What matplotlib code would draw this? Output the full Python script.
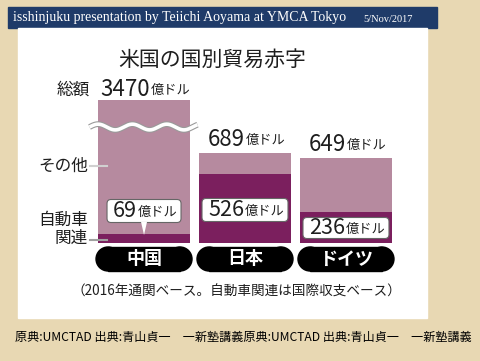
import numpy as np
import matplotlib.pyplot as plt
from matplotlib.patches import Rectangle, FancyBboxPatch, Polygon

plt.rcParams['font.family'] = ['Noto Sans CJK JP', 'DejaVu Sans']

# data (億ドル)
countries = ['中国', '日本', 'ドイツ']
totals = [3470, 689, 649]
autos = [69, 526, 236]
unit = '億ドル'

LIGHT = '#b68a9f'
DARK = '#7b1f5e'
INK = '#1e1e1e'

fig = plt.figure(figsize=(4.8, 3.61), dpi=100)
fig.patch.set_facecolor('#e8d8b3')


def canvas(z):
    c = fig.add_axes([0, 0, 1, 1], zorder=z)
    c.set_xlim(0, 480)
    c.set_ylim(361, 0)
    c.axis('off')
    c.patch.set_visible(False)
    return c


# pixel canvases: one behind the bars, one on top
bg = canvas(0)
fg = canvas(2)
bg.add_patch(Rectangle((8, 7), 429, 21, color='#1f3b69'))
bg.add_patch(Rectangle((18, 28), 409, 290, color='white'))
fg.text(13, 18, 'isshinjuku presentation by Teiichi Aoyama at YMCA Tokyo',
        family='Liberation Serif', color='white', fontsize=10, va='center')
fg.text(363, 19, '5/Nov/2017', family='Liberation Serif', color='white',
        fontsize=7.5, va='center')

# chart title
fg.text(212, 60, '米国の国別貿易赤字', fontsize=15, color=INK, ha='center', va='center')

# bar axes
ax = fig.add_axes([80 / 480, 1 - 243 / 361, 330 / 480, 143 / 361], zorder=1)
ax.set_xlim(-0.634, 2.634)
ax.set_ylim(0, 1095)
ax.axis('off')
x = np.arange(len(countries))
others = [t - a for t, a in zip(totals, autos)]
ax.bar(x, autos, width=0.92, color=DARK)
ax.bar(x, others, width=0.92, bottom=autos, color=LIGHT)

# break mark on the China bar
wx = np.linspace(-0.54, 0.53, 200)
wy = 888 + 22 * np.sin((wx + 0.54) * 2 * np.pi / 0.34)
ax.plot(wx, wy, color='#9a9a9a', lw=4.2, clip_on=False, solid_capstyle='butt')
ax.plot(wx, wy, color='white', lw=2.6, clip_on=False, solid_capstyle='butt')

fig.canvas.draw()


def to_px(xd, yd):
    px, py = ax.transData.transform((xd, yd))
    return px, 361 - py


def value_label(cx, cy, num, size_num, size_unit, digit_w, unit_w=38):
    wnum = digit_w * len(num)
    split = cx + (wnum - unit_w) / 2
    fg.text(split, cy, num, fontsize=size_num, color=INK, ha='right', va='center', zorder=5)
    fg.text(split + 1, cy + 1, unit, fontsize=size_unit, color=INK, ha='left', va='center', zorder=5)


# totals above bars
for i, t in enumerate(totals):
    cx, top = to_px(i, min(t, 1095))
    if i == 0:
        value_label(cx, 89, str(t), 16, 9.5, 12.5)
    else:
        value_label(cx, top - 14, str(t), 16, 9.5, 12.5)
fg.text(57, 90, '総額', fontsize=12, color=INK, ha='left', va='center')

# auto-related value boxes
box_y = [211, 210, 228]
box_w = [74, 86, 86]
box_h = [23, 23, 21]
for i, a in enumerate(autos):
    cx, _ = to_px(i, 0)
    w, h, cy = box_w[i], box_h[i], box_y[i]
    fg.add_patch(FancyBboxPatch((cx - w / 2 + 3, cy - h / 2 + 3), w - 6, h - 6,
                                boxstyle='round,pad=3,rounding_size=4',
                                fc='white', ec='#666666', lw=0.8, zorder=3))
    if i == 0:
        _, atop = to_px(i, a)
        fg.add_patch(Polygon([(cx - 3, cy + h / 2 - 0.6), (cx + 3, cy + h / 2 - 0.6),
                              (cx, atop + 1)], closed=True, fc='white', ec='none', zorder=4))
    value_label(cx, cy, str(a), 15.5, 9.5, 12)

# left side annotations
fg.text(88, 166, 'その他', fontsize=12, color=INK, ha='right', va='center')
fg.plot([90, 107], [166, 166], color='#d0d0d0', lw=1.5)
fg.text(88, 220, '自動車', fontsize=12, color=INK, ha='right', va='center')
fg.text(88, 238, '関連', fontsize=12, color=INK, ha='right', va='center')
fg.plot([90, 107], [240, 240], color='#a0a0a0', lw=1.5)

# country pills
for i, c in enumerate(countries):
    cx, _ = to_px(i, 0)
    fg.add_patch(Rectangle((cx - 36, 247), 72, 24, color='black'))
    for s in (-1, 1):
        fg.add_patch(plt.Circle((cx + s * 36, 259), 12, color='black'))
    fg.text(cx, 259, c, fontsize=13, fontweight='bold', color='white',
            ha='center', va='center')

# footnote
fg.text(236, 292, '（2016年通関ベース。自動車関連は国際収支ベース）', fontsize=9.8,
        color=INK, ha='center', va='center')

fg.text(15, 337, '原典:UMCTAD 出典:青山貞一　一新塾講義原典:UMCTAD 出典:青山貞一　一新塾講義',
        fontsize=8.7, color='black', ha='left', va='center')

fig.savefig('out.png', dpi=100, facecolor=fig.get_facecolor())
